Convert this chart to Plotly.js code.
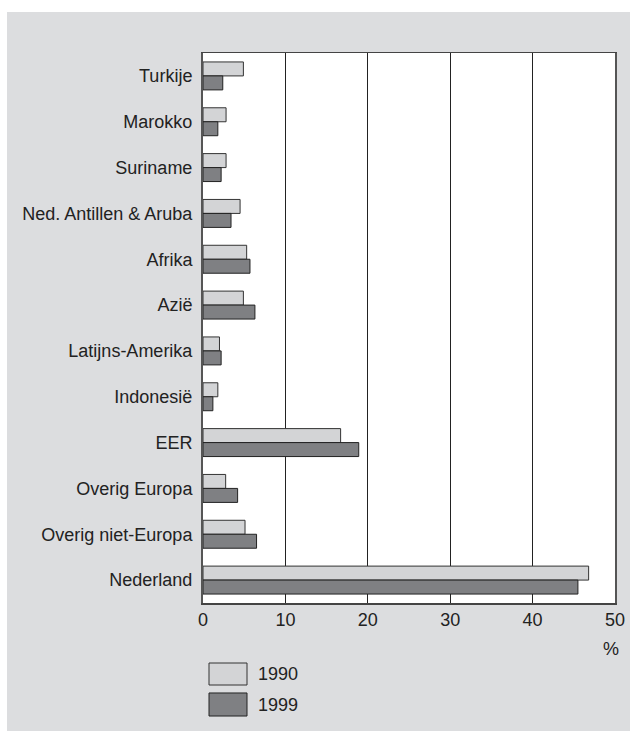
<!DOCTYPE html>
<html>
<head>
<meta charset="utf-8">
<script src="https://cdn.plot.ly/plotly-3.0.1.min.js"></script>
<style>
html,body{margin:0;padding:0;background:#ffffff;}
#chart{position:absolute;left:7px;top:12px;width:623px;height:719px;}
</style>
</head>
<body>
<div id="chart"></div>
<script>
const categories = ["Turkije","Marokko","Suriname","Ned. Antillen & Aruba","Afrika","Azië","Latijns-Amerika","Indonesië","EER","Overig Europa","Overig niet-Europa","Nederland"];
const values1990 = [4.9, 2.8, 2.8, 4.5, 5.3, 4.9, 2.0, 1.8, 16.7, 2.75, 5.1, 46.8];
const values1999 = [2.4, 1.8, 2.2, 3.4, 5.7, 6.3, 2.2, 1.2, 18.9, 4.2, 6.5, 45.5];
const seriesNames = ["1990", "1999"];
const xTicks = [0, 10, 20, 30, 40, 50];

const FONT = "'Liberation Sans', Arial, sans-serif";
const FS = 18;
const lightFill = "#d3d4d6";
const darkFill = "#7f8083";

const traces = [
  {type:"bar", orientation:"h", name:seriesNames[0], y:categories, x:values1990,
   marker:{color:lightFill, line:{color:"#333333", width:1}}},
  {type:"bar", orientation:"h", name:seriesNames[1], y:categories, x:values1999,
   marker:{color:darkFill, line:{color:"#222222", width:1}}}
];

const layout = {
  width:623, height:719,
  margin:{l:196, r:15, t:41, b:128, pad:0},
  paper_bgcolor:"#dcdddf",
  plot_bgcolor:"#ffffff",
  barmode:"group",
  bargap:0.39,
  bargroupgap:0,
  showlegend:false,
  font:{family:FONT, size:FS, color:"#222222"},
  xaxis:{range:[0,50], tickvals:xTicks, ticktext:xTicks.map(String),
    showgrid:true, gridcolor:"#222222", gridwidth:1, zeroline:false,
    showline:true, mirror:true, linecolor:"#444444", linewidth:1.5,
    ticks:"", ticklabelstandoff:0, tickfont:{family:FONT, size:FS, color:"#222222"}},
  yaxis:{type:"category", autorange:"reversed", range:[11.5,-0.5],
    showgrid:false, zeroline:false,
    showline:true, mirror:true, linecolor:"#555555", linewidth:2,
    ticks:"", ticklabelstandoff:5, tickfont:{family:FONT, size:FS, color:"#222222"}},
  shapes:[
    {type:"rect", xref:"paper", yref:"paper", x0:0.0146, x1:0.1068, y0:-0.1091, y1:-0.1491,
     fillcolor:lightFill, line:{color:"#333333", width:1}},
    {type:"rect", xref:"paper", yref:"paper", x0:0.0146, x1:0.1068, y0:-0.1636, y1:-0.2055,
     fillcolor:darkFill, line:{color:"#222222", width:1}}
  ],
  annotations:[
    {xref:"paper", yref:"paper", x:0.1286, y:-0.1291, xanchor:"left", yanchor:"middle",
     text:seriesNames[0], showarrow:false, font:{family:FONT, size:FS, color:"#222222"}},
    {xref:"paper", yref:"paper", x:0.1286, y:-0.1855, xanchor:"left", yanchor:"middle",
     text:seriesNames[1], showarrow:false, font:{family:FONT, size:FS, color:"#222222"}},
    {xref:"paper", yref:"paper", x:0.990, y:-0.0836, xanchor:"center", yanchor:"middle",
     text:"%", showarrow:false, font:{family:FONT, size:FS, color:"#222222"}}
  ]
};

Plotly.newPlot("chart", traces, layout, {displayModeBar:false, staticPlot:true});
</script>
</body>
</html>
